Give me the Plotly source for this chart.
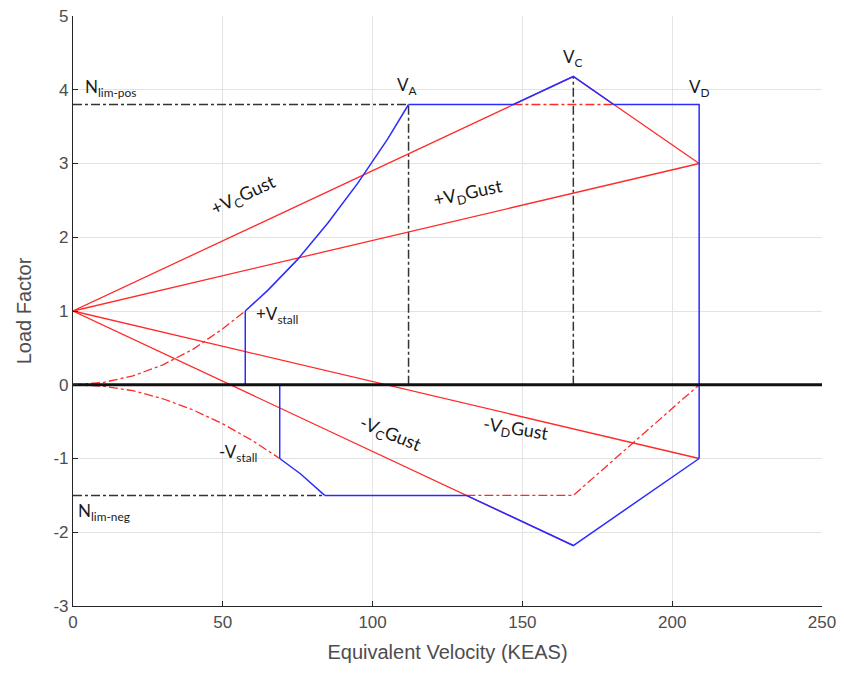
import plotly.graph_objects as go

# ---- data ----
# positive stall curve (below Vs, dash-dot red)
stall_pos_dash_v = [0, 10, 20, 30, 40, 50, 57.5]
stall_pos_dash_n = [0, 0.03, 0.12, 0.27, 0.48, 0.76, 1.0]
# positive stall curve (envelope, blue)
stall_pos_v = [57.5, 65, 75, 85, 95, 105, 112]
stall_pos_n = [1.0, 1.28, 1.70, 2.19, 2.73, 3.33, 3.8]
# negative stall curve (dash-dot red)
stall_neg_dash_v = [0, 10, 20, 30, 40, 50, 60, 69]
stall_neg_dash_n = [0, -0.02, -0.08, -0.19, -0.34, -0.53, -0.76, -1.0]
# negative stall curve (envelope, blue)
stall_neg_v = [69, 76, 84]
stall_neg_n = [-1.0, -1.21, -1.5]

# gust lines (red)
gust_pc_v = [0, 167]; gust_pc_n = [1, 4.18]
gust_pd_v = [0, 209]; gust_pd_n = [1, 3.0]
gust_nc_v = [0, 167]; gust_nc_n = [1, -2.18]
gust_nd_v = [0, 209]; gust_nd_n = [1, -1.0]
gust_cd_v = [167, 209]; gust_cd_n = [4.18, 3.0]

# combined envelope (blue)
env_top_v = [112, 147, 167, 180.5, 209, 209]
env_top_n = [3.8, 3.8, 4.18, 3.8, 3.8, -1.0]
env_bot_v = [209, 167, 131.3, 84]
env_bot_n = [-1.0, -2.18, -1.5, -1.5]
vs_pos_line_v = [57.5, 57.5]; vs_pos_line_n = [0, 1.0]
vs_neg_line_v = [69, 69]; vs_neg_line_n = [0, -1.0]

# maneuver lines hidden by gust envelope (red dash-dot)
man_top_v = [147, 180.5]; man_top_n = [3.8, 3.8]
man_bot_v = [131.3, 167, 209]; man_bot_n = [-1.5, -1.5, 0]

# reference lines (black dash-dot)
ref_pos_v = [0, 112]; ref_pos_n = [3.8, 3.8]
ref_neg_v = [0, 84]; ref_neg_n = [-1.5, -1.5]
ref_va_v = [112, 112]; ref_va_n = [0, 3.8]
ref_vc_v = [167, 167]; ref_vc_n = [0, 4.18]

zero_v = [0, 250]; zero_n = [0, 0]

x_ticks = [0, 50, 100, 150, 200, 250]
y_ticks = [-3, -2, -1, 0, 1, 2, 3, 4, 5]
y_tick_labels = ["-3", "-2", "-1", "0", "1", "2", "3", "4", "5"]

RED = "#ff2a2a"
BLUE = "#2b2bff"
BLACK = "#333333"

fig = go.Figure()

def add(x, y, color, width=1.4, dash="solid"):
    fig.add_trace(go.Scatter(x=x, y=y, mode="lines",
                             line=dict(color=color, width=width, dash=dash),
                             hoverinfo="skip", showlegend=False))

# black reference lines
add(ref_pos_v, ref_pos_n, BLACK, 1.5, "dashdot")
add(ref_neg_v, ref_neg_n, BLACK, 1.5, "dashdot")
add(ref_va_v, ref_va_n, BLACK, 1.5, "dashdot")
add(ref_vc_v, ref_vc_n, BLACK, 1.5, "dashdot")

# red dash-dot
add(stall_pos_dash_v, stall_pos_dash_n, RED, 1.3, "dashdot")
add(stall_neg_dash_v, stall_neg_dash_n, RED, 1.3, "dashdot")
add(man_top_v, man_top_n, RED, 1.3, "dashdot")
add(man_bot_v, man_bot_n, RED, 1.3, "dashdot")

# red gust lines
add(gust_pc_v, gust_pc_n, RED, 1.3)
add(gust_pd_v, gust_pd_n, RED, 1.3)
add(gust_nc_v, gust_nc_n, RED, 1.3)
add(gust_nd_v, gust_nd_n, RED, 1.3)
add(gust_cd_v, gust_cd_n, RED, 1.3)

# blue envelope
add(stall_pos_v, stall_pos_n, BLUE, 1.5)
add(stall_neg_v, stall_neg_n, BLUE, 1.5)
add(env_top_v, env_top_n, BLUE, 1.5)
add(env_bot_v, env_bot_n, BLUE, 1.5)
add(vs_pos_line_v, vs_pos_line_n, BLUE, 1.5)
add(vs_neg_line_v, vs_neg_line_n, BLUE, 1.5)

# thick zero line
add(zero_v, zero_n, "#111111", 3.2)

AF = "Lato, 'Open Sans', sans-serif"
TC = "#1a1a1a"

def note(x, y, text, angle=0, xanchor="center", size=17):
    fig.add_annotation(x=x, y=y, text=text, showarrow=False, textangle=angle,
                       xanchor=xanchor, yanchor="middle",
                       font=dict(family=AF, size=size, color=TC))

note(3.5, 4.02, "N<sub>lim-pos</sub>", xanchor="left")
note(1.0, -1.72, "N<sub>lim-neg</sub>", xanchor="left")
note(111.5, 4.05, "V<sub>A</sub>")
note(167, 4.43, "V<sub>C</sub>")
note(209, 4.03, "V<sub>D</sub>")
note(57, 2.57, "+V<sub>C</sub>Gust", angle=-25, size=18)
note(132, 2.6, "+V<sub>D</sub>Gust", angle=-12, size=18)
note(106, -0.68, "-V<sub>C</sub>Gust", angle=22, size=18)
note(148, -0.61, "-V<sub>D</sub>Gust", angle=9, size=18)
note(60.5, 0.95, "+V<sub>stall</sub>", xanchor="left")
note(62, -0.92, "-V<sub>stall</sub>", xanchor="right")

TF = "'Liberation Sans', Arial, sans-serif"

# page body has an 8px default margin; size the figure so it fits the window
fig.update_layout(
    width=836, height=673,
    margin=dict(l=65, r=22, t=8, b=75),
    paper_bgcolor="white", plot_bgcolor="white",
    showlegend=False,
    xaxis=dict(range=[0, 250], tickvals=x_ticks, showgrid=True, automargin=False,
               gridcolor="#e3e3e3", gridwidth=1, zeroline=False,
               showline=True, linecolor="#262626", linewidth=1.2,
               ticks="inside", ticklen=5, tickcolor="#262626",
               ticklabeloverflow="allow",
               tickfont=dict(family=TF, size=17, color="#4d4d4d"),
               title=dict(text="Equivalent Velocity (KEAS)", standoff=14,
                          font=dict(family=TF, size=20, color="#4d4d4d"))),
    yaxis=dict(range=[-3, 5], tickvals=y_ticks, ticktext=y_tick_labels,
               showgrid=True, automargin=False,
               gridcolor="#e3e3e3", gridwidth=1, zeroline=False,
               showline=True, linecolor="#262626", linewidth=1.2,
               ticks="inside", ticklen=5, tickcolor="#262626",
               ticklabeloverflow="allow",
               tickfont=dict(family=TF, size=17, color="#4d4d4d"),
               title=dict(text="Load Factor", standoff=16,
                          font=dict(family=TF, size=20, color="#4d4d4d"))),
)

fig.write_html("out.html")
